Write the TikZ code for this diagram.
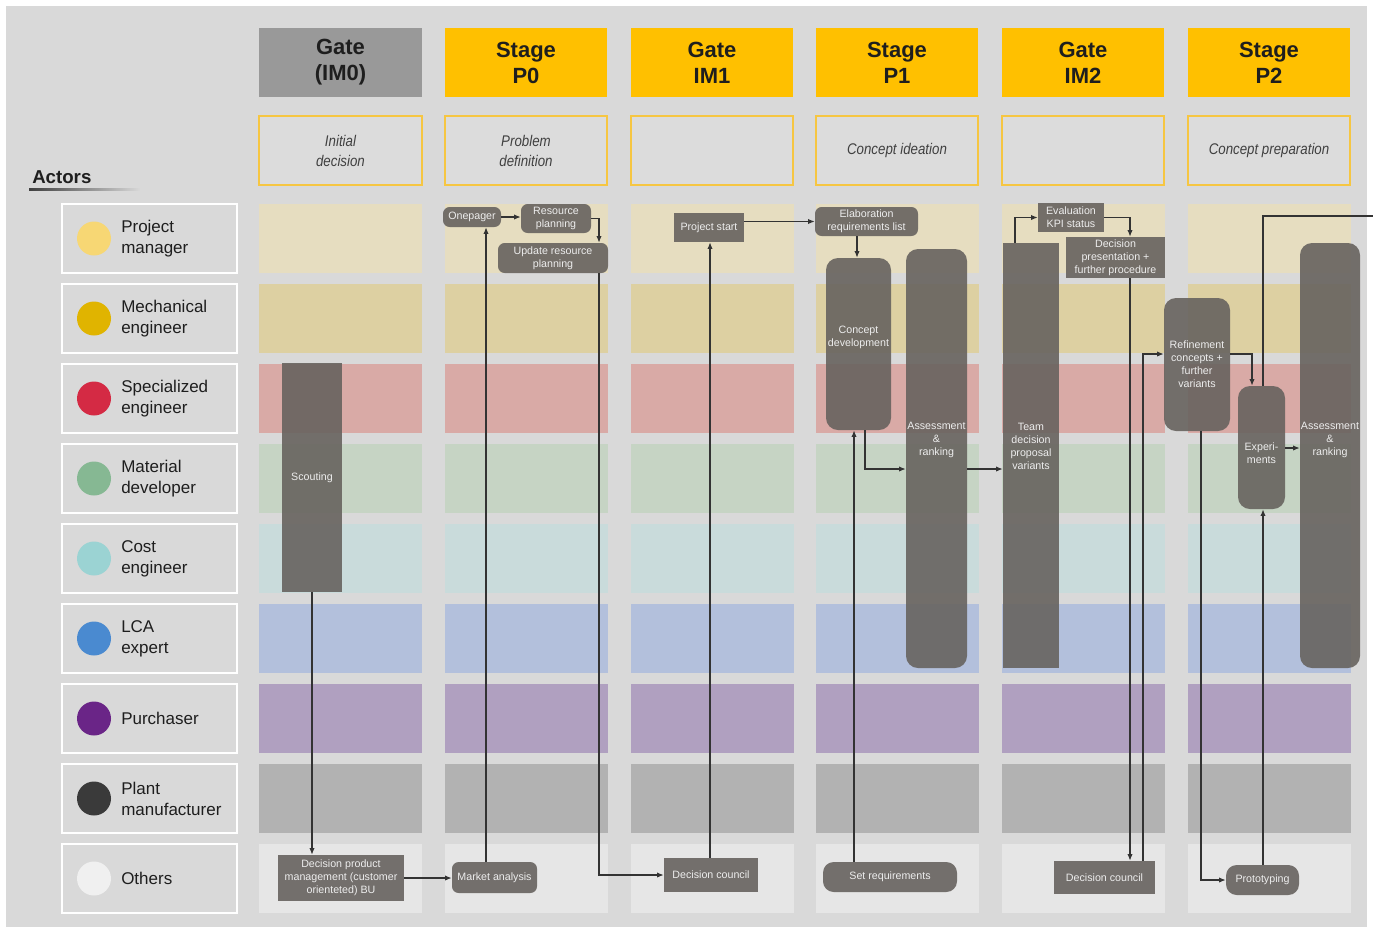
\documentclass[tikz,border=0pt]{standalone}
\usepackage{fontspec}
\setmainfont{Liberation Sans}
\newfontfamily\narrowfont[FakeStretch=0.86]{Liberation Sans}
\usetikzlibrary{arrows.meta,fadings}
\definecolor{bg}{HTML}{D9D9D9}
\definecolor{hdrgray}{HTML}{999999}
\definecolor{hdryellow}{HTML}{FFC000}
\definecolor{subline}{HTML}{F6C642}
\definecolor{subfill}{HTML}{DCDCDC}
\definecolor{laneA}{HTML}{E6DDC0}
\definecolor{laneB}{HTML}{DDD0A2}
\definecolor{laneC}{HTML}{D9AAA6}
\definecolor{laneD}{HTML}{C6D4C4}
\definecolor{laneE}{HTML}{C9DBDB}
\definecolor{laneF}{HTML}{B3C0DC}
\definecolor{laneG}{HTML}{B0A0C0}
\definecolor{laneH}{HTML}{B2B2B2}
\definecolor{laneI}{HTML}{E6E6E6}
\definecolor{cPM}{HTML}{F7D774}
\definecolor{cME}{HTML}{E0B400}
\definecolor{cSE}{HTML}{D42A44}
\definecolor{cMD}{HTML}{86B893}
\definecolor{cCE}{HTML}{9BD3D3}
\definecolor{cLCA}{HTML}{4A8AD0}
\definecolor{cPU}{HTML}{6A2587}
\definecolor{cPL}{HTML}{3A3A3A}
\definecolor{cOT}{HTML}{F0F0F0}
\definecolor{procfill}{HTML}{67635F}
\definecolor{proctext}{HTML}{EDEDED}
\definecolor{linec}{HTML}{333333}
\definecolor{txt}{HTML}{1E1E1E}
\tikzset{
  boxat/.style args={#1/#2/#3/#4}{minimum width={(#3-#1)*0.75pt}, minimum height={(#4-#2)*0.75pt}, at={({(#1+#3)/2},{(#2+#4)/2})}},
  hdr/.style={inner sep=0pt, align=center, text=txt, font=\bfseries\fontsize{16.5}{19.5}\selectfont},
  subhdr/.style={draw=subline, line width=1.5pt, fill=subfill, inner sep=0pt, align=center, text=txt!85, font=\narrowfont\itshape\fontsize{11.6}{15}\selectfont},
  actorbox/.style={draw=white, line width=1.5pt, fill=bg, inner sep=0pt},
  actortext/.style={inner sep=0pt, align=left, text=txt, font=\fontsize{12.75}{15.75}\selectfont},
  dot/.style={circle, inner sep=0pt, minimum size=25.5pt},
  proc/.style={fill=procfill, fill opacity=0.9, text opacity=1, text=proctext, inner sep=0pt, align=center, font=\fontsize{8}{9.75}\selectfont},
  rproc/.style={proc, rounded corners=5pt},
  tproc/.style={proc, rounded corners=9pt},
  plabel/.style={text=proctext, align=center, inner sep=0pt, font=\fontsize{8}{9.75}\selectfont},
  ln/.style={draw=linec, line width=0.9pt},
  arr/.style={ln, -{Latex[length=5pt,width=4pt]}},
}
\begin{document}
\begin{tikzpicture}[x=0.75pt,y=-0.75pt]
\useasboundingbox (0,0) rectangle (1373,929);
\fill[white] (0,0) rectangle (1373,929);
\fill[bg] (6,6) rectangle (1367,927);

% headers
\node[hdr, fill=hdrgray, boxat={259/28/422/97}] (h1) {Gate\\(IM0)};
\node[hdr, fill=hdryellow, boxat={445/28/607/97}] (h2) {Stage\\P0};
\node[hdr, fill=hdryellow, boxat={631/28/793/97}] (h3) {Gate\\IM1};
\node[hdr, fill=hdryellow, boxat={816/28/978/97}] (h4) {Stage\\P1};
\node[hdr, fill=hdryellow, boxat={1002/28/1164/97}] (h5) {Gate\\IM2};
\node[hdr, fill=hdryellow, boxat={1188/28/1350/97}] (h6) {Stage\\P2};

% sub headers
\node[subhdr, boxat={259/116/422/185}] (s1) {Initial\\decision};
\node[subhdr, boxat={445/116/607/185}] (s2) {Problem\\definition};
\node[subhdr, boxat={631/116/793/185}] (s3) {};
\node[subhdr, boxat={816/116/978/185}] (s4) {Concept ideation};
\node[subhdr, boxat={1002/116/1164/185}] (s5) {};
\node[subhdr, boxat={1188/116/1350/185}] (s6) {Concept preparation};

% lanes
\foreach \xl in {259,445,631,816,1002,1188}{
  \foreach \r/\lc in {0/laneA,1/laneB,2/laneC,3/laneD,4/laneE,5/laneF,6/laneG,7/laneH,8/laneI}{
    \fill[\lc] (\xl,{204+80*\r}) rectangle ++(163,69);
  }
}

% actors
\node[font=\bfseries\fontsize{14}{16}\selectfont, text=txt, anchor=base west, inner sep=0pt] (actors) at (32,183) {Actors};
\fill[black!75, path fading=east] (29,188) rectangle (140,191);
\foreach \r/\dc/\nm in {0/cPM/{Project\\manager},1/cME/{Mechanical\\engineer},2/cSE/{Specialized\\engineer},3/cMD/{Material\\developer},4/cCE/{Cost\\engineer},5/cLCA/{LCA\\expert},6/cPU/{Purchaser},7/cPL/{Plant\\manufacturer},8/cOT/{Others}}{
  \node[actorbox, minimum width=131.25pt, minimum height=51.75pt] (act\r) at (149.5,{238.5+80*\r}) {};
  \node[dot, fill=\dc] (dot\r) at (94,{238.5+80*\r}) {};
  \node[actortext, anchor=west] (actname\r) at (121,{238.5+80*\r}) {\nm};
}

% process boxes
\node[proc, boxat={282/363/342/592}] (scout) {Scouting};
\node[proc, boxat={278/855/404/901}] (dpm) {Decision product\\management (customer\\orienteted) BU};
\node[rproc, boxat={452/862/537/893}] (ma) {Market analysis};
\node[rproc, boxat={443/207/501/227}] (one) {Onepager};
\node[rproc, boxat={521/204/591/233}] (rp) {Resource\\planning};
\node[rproc, boxat={498/243/608/273}] (urp) {Update resource\\planning};
\node[proc, boxat={674/213/744/242}] (ps) {Project start};
\node[proc, boxat={664/858/758/892}] (dc1) {Decision council};
\node[rproc, boxat={815/207/918/236}] (elab) {Elaboration\\requirements list};
\node[tproc, boxat={826/258/891/430}, label={[plabel, yshift=5pt]center:{Concept\\development}}] (cd) {};
\node[tproc, boxat={906/249/967/668}, label={[plabel, yshift=14pt]center:{Assessment\\\&\\ranking}}] (ar1) {};
\node[rproc, rounded corners=8pt, boxat={823/862/957/892}] (sr) {Set requirements};
\node[proc, boxat={1003/243/1059/668}, label={[plabel, yshift=7pt]center:{Team\\decision\\proposal\\variants}}] (td) {};
\node[proc, boxat={1038/203/1104/232}] (ev) {Evaluation\\KPI status};
\node[proc, boxat={1066/237/1165/278}] (dp) {Decision\\presentation +\\further procedure};
\node[proc, boxat={1054/861/1155/894}] (dc2) {Decision council};
\node[tproc, boxat={1164/298/1230/431}] (ref) {Refinement\\concepts +\\further\\variants};
\node[tproc, boxat={1238/386/1285/509}, label={[plabel, yshift=-4pt]center:{Experi-\\ments}}] (exp) {};
\node[tproc, boxat={1300/243/1360/668}, label={[plabel, yshift=12pt]center:{Assessment\\\&\\ranking}}] (ar2) {};
\node[rproc, rounded corners=8pt, boxat={1226/865/1299/895}] (proto) {Prototyping};

% helper coordinates
\coordinate (xc) at (486,0);
\coordinate (xe) at (599,0);
\coordinate (xg) at (710,0);
\coordinate (xi) at (857,0);
\coordinate (j) at (865,469);
\coordinate (xk) at (854,0);
\coordinate (xm) at (1015,0);
\coordinate (xn) at (1130,0);
\coordinate (p) at (1143,354);
\coordinate (xq) at (1252,0);
\coordinate (xr) at (1201,0);
\coordinate (xs) at (1263,0);
\coordinate (yt) at (0,448);
\coordinate (uend) at (1373,216);

% connectors
\draw[arr] (scout.south) -- (scout.south |- dpm.north);
\draw[arr] (dpm.east) -- (dpm.east -| ma.west);
\draw[arr] (xc |- ma.north) -- (xc |- one.south);
\draw[arr] (one.east) -- (one.east -| rp.west);
\draw[arr] (rp.east) -| (xe |- urp.north);
\draw[arr] (xe |- urp.south) |- (dc1.west);
\draw[arr] (xg |- dc1.north) -- (xg |- ps.south);
\draw[arr] (elab.west -| ps.east) -- (elab.west);
\draw[arr] (xi |- elab.south) -- (xi |- cd.north);
\draw[arr] (j |- cd.south) |- (j -| ar1.west);
\draw[arr] (xk |- sr.north) -- (xk |- cd.south);
\draw[arr] (j -| ar1.east) -- (j -| td.west);
\draw[arr] (xm |- td.north) |- (ev.west);
\draw[arr] (ev.east) -| (xn |- dp.north);
\draw[arr] (xn |- dp.south) -- (xn |- dc2.north);
\draw[arr] (p |- dc2.north) |- (p -| ref.west);
\draw[arr] (p -| ref.east) -| (xq |- exp.north);
\draw[arr] (xr |- ref.south) |- (proto.west);
\draw[arr] (xs |- proto.north) -- (xs |- exp.south);
\draw[arr] (yt -| exp.east) -- (yt -| ar2.west);
\draw[ln] (xs |- exp.north) |- (uend);
\end{tikzpicture}
\end{document}
